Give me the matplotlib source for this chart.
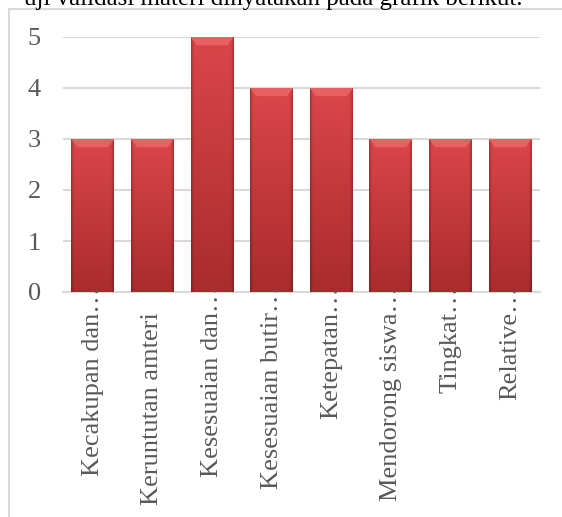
import matplotlib.pyplot as plt
import numpy as np
from matplotlib.patches import Rectangle, Polygon
from matplotlib.colors import to_rgb
from matplotlib.transforms import blended_transform_factory, ScaledTranslation

plt.rcParams.update({
    'font.family': 'serif',
    'font.serif': ['Liberation Serif', 'DejaVu Serif'],
    'font.size': 16,
})

# Data
categories = [
    'Kecakupan dan…',
    'Keruntutan amteri',
    'Kesesuaian dan…',
    'Kesesuaian butir…',
    'Ketepatan…',
    'Mendorong siswa…',
    'Tingkat…',
    'Relative…',
]
scores = [3, 3, 5, 4, 4, 3, 3, 3]
y_ticks = [0, 1, 2, 3, 4, 5]
caption = 'uji validasi materi dinyatakan pada grafik berikut.'

W, H = 562, 517
fig = plt.figure(figsize=(W / 100, H / 100), dpi=100)

# chart frame (light grey box that runs off the right and bottom)
fig.patches.append(Rectangle((9 / W, -0.05), 1.1, (H - 9) / H + 0.05,
                             transform=fig.transFigure, fill=False,
                             edgecolor='#d9d9d9', linewidth=1.5))

# caption cut off by the top of the picture
fig.text(523 / W, (H - 5) / H, caption, ha='right', va='baseline',
         fontsize=18, color='black')

ax = fig.add_axes([63 / W, (H - 292) / H, (540 - 63) / W, (292 - 37) / H])
x = np.arange(len(categories))
bars = ax.bar(x, scores, width=0.72, color='#c63a3c', zorder=2)

# vertical + horizontal shading to mimic the bevelled Excel bars
top_c = np.array(to_rgb('#dc4649'))
bot_c = np.array(to_rgb('#a92c2d'))
ny, nx = 100, 40
t = np.linspace(0, 1, ny)[:, None, None]
grad = top_c * (1 - t) + bot_c * t
u = np.linspace(0, 1, nx)
edge = 1 - 0.22 * (np.clip(1 - u / 0.06, 0, 1) + np.clip(1 - (1 - u) / 0.06, 0, 1))
img = np.clip(grad * edge[None, :, None], 0, 1)

bevel_h = 0.16
for b in bars:
    x0, w, h = b.get_x(), b.get_width(), b.get_height()
    im = ax.imshow(img, extent=[x0, x0 + w, 0, h], aspect='auto',
                   zorder=3, interpolation='bilinear')
    im.set_clip_path(b)
    inset = w * 0.14
    ax.add_patch(Polygon([(x0, h), (x0 + w, h), (x0 + w - inset, h - bevel_h),
                          (x0 + inset, h - bevel_h)], closed=True,
                         facecolor='#e8605f', edgecolor='none', zorder=4))

ax.set_xlim(-0.5, len(categories) - 0.5)
ax.set_ylim(0, 5)
ax.set_yticks(y_ticks)
ax.set_xticks(x)
ax.set_xticklabels([])
ax.tick_params(axis='y', length=0, pad=16, labelcolor='#595959', labelsize=19)
ax.tick_params(axis='x', length=0)

# category labels: letters start at the same depth, the ellipsis pokes up
trans = blended_transform_factory(ax.transData, ax.transAxes)
for i, lab in enumerate(categories):
    shift = -20 if not lab.endswith('…') else 6
    ax.text(i, 0, lab, rotation=90, ha='center', va='top', fontsize=19,
            color='#595959', zorder=5,
            transform=trans + ScaledTranslation(0, shift / 100, fig.dpi_scale_trans))

ax.yaxis.grid(True, color='#d9d9d9', linewidth=1.5, zorder=0)
ax.set_axisbelow(True)
for side in ['top', 'right', 'left']:
    ax.spines[side].set_visible(False)
ax.spines['bottom'].set_color('#d9d9d9')
ax.spines['bottom'].set_linewidth(1.5)

fig.savefig('out.png', dpi=100, facecolor='white')
